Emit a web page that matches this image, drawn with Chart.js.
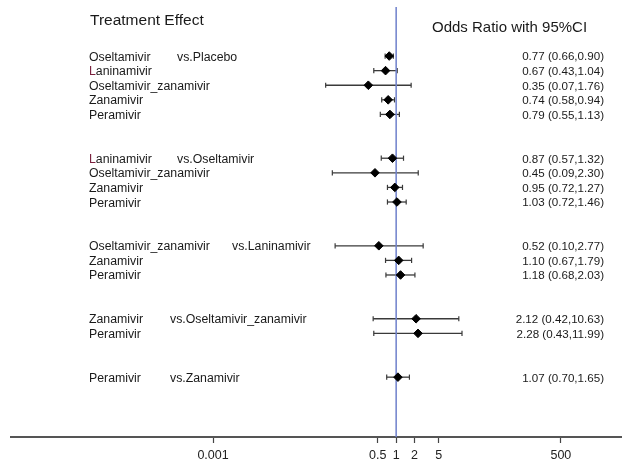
<!DOCTYPE html>
<html>
<head>
<meta charset="utf-8">
<script src="https://cdn.jsdelivr.net/npm/chart.js@4.4.1/dist/chart.umd.min.js"></script>
<style>
  html, body { margin: 0; padding: 0; background: #ffffff; }
  #wrap { width: 622px; height: 465px; position: relative; }
</style>
</head>
<body>
<div id="wrap"><canvas id="c"></canvas></div>
<script>
// ---- data ----
const treatments = ['Oseltamivir','Laninamivir','Oseltamivir_zanamivir','Zanamivir','Peramivir',
  'Laninamivir','Oseltamivir_zanamivir','Zanamivir','Peramivir',
  'Oseltamivir_zanamivir','Zanamivir','Peramivir',
  'Zanamivir','Peramivir',
  'Peramivir'];
const rowPos = [0,1,2,3,4, 7,8,9,10, 13,14,15, 18,19, 22];
const comparisons = ['vs.Placebo','vs.Oseltamivir','vs.Laninamivir','vs.Oseltamivir_zanamivir','vs.Zanamivir'];
const comparisonFirstRow = [0,5,9,12,14];
const oddsRatio = [0.77,0.67,0.35,0.74,0.79, 0.87,0.45,0.95,1.03, 0.52,1.10,1.18, 2.12,2.28, 1.07];
const ciLow     = [0.66,0.43,0.07,0.58,0.55, 0.57,0.09,0.72,0.72, 0.10,0.67,0.68, 0.42,0.43, 0.70];
const ciHigh    = [0.90,1.04,1.76,0.94,1.13, 1.32,2.30,1.27,1.46, 2.77,1.79,2.03, 10.63,11.99, 1.65];
const tickValues = [0.001,0.5,1,2,5,500];
const tickLabels = ['0.001','0.5','1','2','5','500'];
const titleLeft = 'Treatment Effect';
const titleRight = 'Odds Ratio with 95%CI';

// ---- layout (positions/styles) ----
const vsX = [177,177,232,170,170];
const FONT = '"Liberation Sans", Arial, sans-serif';

const ciDatasets = rowPos.map((r, i) => ({
  type: 'line',
  data: [{x: ciLow[i], y: r}, {x: ciHigh[i], y: r}],
  borderColor: '#3a3a3a',
  borderWidth: 1.3,
  pointStyle: 'line',
  rotation: 90,
  pointRadius: 2.6,
  pointBorderWidth: 1.2,
  pointBorderColor: '#3a3a3a',
  order: 3
}));

const refLine = {
  type: 'line',
  data: [{x: 1, y: -3.36}, {x: 1, y: 26.1}],
  borderColor: '#6f80cc',
  borderWidth: 1.5,
  pointRadius: 0,
  order: 2
};

const diamonds = {
  type: 'scatter',
  data: rowPos.map((r, i) => ({x: oddsRatio[i], y: r})),
  pointStyle: 'rectRot',
  pointRadius: 4.3,
  backgroundColor: '#000',
  borderColor: '#000',
  borderWidth: 1,
  order: 1
};

const textPlugin = {
  id: 'forestText',
  afterDraw(chart) {
    const ctx = chart.ctx;
    const ys = chart.scales.y;
    ctx.save();
    ctx.fillStyle = '#1a1a1a';
    ctx.textBaseline = 'alphabetic';
    ctx.font = '15.5px ' + FONT;
    ctx.textAlign = 'left';
    ctx.fillText(titleLeft, 90, 25);
    ctx.font = '15px ' + FONT;
    ctx.fillText(titleRight, 432, 32);

    ctx.font = '12.3px ' + FONT;
    treatments.forEach((t, i) => {
      const y = ys.getPixelForValue(rowPos[i]) + 4.5;
      if (t === 'Laninamivir') {
        ctx.fillStyle = '#7a1f3d';
        ctx.fillText('L', 89, y);
        const w = ctx.measureText('L').width;
        ctx.fillStyle = '#1a1a1a';
        ctx.fillText(t.slice(1), 89 + w, y);
      } else {
        ctx.fillStyle = '#1a1a1a';
        ctx.fillText(t, 89, y);
      }
    });
    comparisons.forEach((c, k) => {
      const y = ys.getPixelForValue(rowPos[comparisonFirstRow[k]]) + 4.5;
      ctx.fillText(c, vsX[k], y);
    });

    ctx.font = '11.6px ' + FONT;
    ctx.textAlign = 'right';
    oddsRatio.forEach((v, i) => {
      const y = ys.getPixelForValue(rowPos[i]) + 4.4;
      const s = v.toFixed(2) + ' (' + ciLow[i].toFixed(2) + ',' + ciHigh[i].toFixed(2) + ')';
      ctx.fillText(s, 604, y);
    });
    ctx.restore();
  }
};

new Chart(document.getElementById('c'), {
  data: { datasets: [diamonds, refLine, ...ciDatasets] },
  options: {
    responsive: true,
    maintainAspectRatio: false,
    animation: false,
    events: [],
    layout: { autoPadding: false, padding: { left: 11, right: 0, top: 7, bottom: 0 } },
    plugins: { legend: { display: false }, tooltip: { enabled: false } },
    scales: {
      x: {
        type: 'logarithmic',
        position: 'bottom',
        min: Math.pow(10, -6.31),
        max: Math.pow(10, 3.70),
        afterBuildTicks: (scale) => { scale.ticks = tickValues.map(v => ({ value: v })); },
        afterFit: (scale) => { scale.height = 28; scale.paddingLeft = 0; scale.paddingRight = 0; },
        ticks: {
          autoSkip: false,
          maxRotation: 0,
          color: '#222',
          font: { size: 12.5, family: FONT },
          padding: 5,
          callback: (value) => tickLabels[tickValues.indexOf(value)]
        },
        grid: { drawOnChartArea: false, drawTicks: true, tickLength: 6, color: '#444', tickWidth: 1.2 },
        border: { display: true, color: '#555', width: 2 }
      },
      y: {
        type: 'linear',
        reverse: true,
        min: -3.36,
        max: 26.1,
        display: false
      }
    }
  },
  plugins: [textPlugin]
});
</script>
</body>
</html>
